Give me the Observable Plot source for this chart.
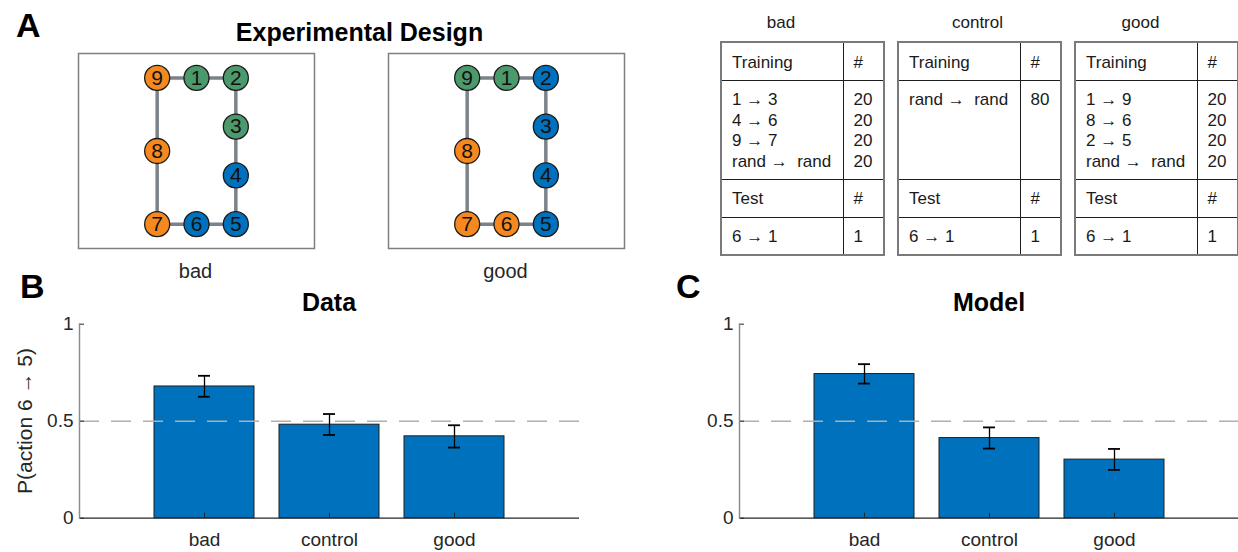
<!DOCTYPE html>
<html><head><meta charset="utf-8">
<script src="https://cdn.jsdelivr.net/npm/d3@7"></script>
<script src="https://cdn.jsdelivr.net/npm/@observablehq/plot@0.6"></script>
<style>
html,body{margin:0;padding:0;background:#fff;overflow:hidden;}
#fig{position:relative;width:1238px;height:552px;overflow:hidden;font-family:"Liberation Sans",Arial,Helvetica,sans-serif;color:#262626;background:#fff;}
.abs{position:absolute;}
.abs svg{max-width:none !important;}
table.t{position:absolute;border-collapse:collapse;table-layout:fixed;width:163px;font-size:17px;line-height:20.5px;color:#1a1a1a;border:2px solid #7a7a7a;}
table.t td{border:1px solid #1e1e1e;vertical-align:top;padding:9.8px 0 0 10px;white-space:pre;overflow:hidden;}
table.t td.n{padding-left:10px;}
</style></head><body><div id="fig"></div><script>
// ---------------- data ----------------
const conditions = ["bad", "control", "good"];
const nodeIds = [1, 2, 3, 4, 5, 6, 7, 8, 9];
const nodeX = [2, 3, 3, 3, 3, 2, 1, 1, 1];
const nodeY = [3, 3, 2, 1, 0, 0, 0, 1.5, 3];
const groupNames = ["cluster A", "cluster B", "cluster C"];
const groupColors = ["#F5891F", "#4C9A6C", "#0072BD"];
const nodeGroupBad  = ["cluster B", "cluster B", "cluster B", "cluster C", "cluster C", "cluster C", "cluster A", "cluster A", "cluster A"];
const nodeGroupGood = ["cluster B", "cluster C", "cluster C", "cluster C", "cluster C", "cluster A", "cluster A", "cluster A", "cluster B"];
const graphLabels = ["bad", "good"];

const trainingBad = [["1 → 3", 20], ["4 → 6", 20], ["9 → 7", 20], ["rand →  rand", 20]];
const trainingControl = [["rand →  rand", 80]];
const trainingGood = [["1 → 9", 20], ["8 → 6", 20], ["2 → 5", 20], ["rand →  rand", 20]];
const testRows = [["6 → 1", 1]];

const dataMean = [0.679, 0.482, 0.422];
const dataLo   = [0.626, 0.429, 0.364];
const dataHi   = [0.734, 0.537, 0.479];
const modelMean = [0.743, 0.413, 0.302];
const modelLo   = [0.694, 0.359, 0.249];
const modelHi   = [0.794, 0.468, 0.357];
const yTicks = [0, 0.5, 1];

// ---------------- helpers ----------------
const fig = document.getElementById("fig");
const FONT = "Liberation Sans, Arial, Helvetica, sans-serif";
function place(el, left, top) {
  const d = document.createElement("div");
  d.className = "abs"; d.style.left = left + "px"; d.style.top = top + "px";
  d.style.width = el.getAttribute("width") + "px";
  d.appendChild(el); fig.appendChild(d); return d;
}

// ---------------- Panel A graphs ----------------
function graphPlot(groups) {
  const nodes = nodeIds.map((id, i) => ({id, x: nodeX[i], y: nodeY[i], g: groups[i]}));
  const edges = nodes.map((n, i) => ({a: n, b: nodes[(i + 1) % nodes.length]}));
  return Plot.plot({
    width: 240, height: 199, margin: 2,
    style: {fontFamily: FONT, overflow: "visible", background: "transparent", maxWidth: "none"},
    x: {domain: [-1, 5], axis: null},
    y: {domain: [-0.5, 3.5], axis: null},
    color: {type: "ordinal", domain: groupNames, range: groupColors},
    marks: [
      Plot.frame({stroke: "#7f7f7f", strokeWidth: 1.5}),
      Plot.link(edges, {x1: d => d.a.x, y1: d => d.a.y, x2: d => d.b.x, y2: d => d.b.y, stroke: "#7b8288", strokeWidth: 3.5}),
      Plot.dot(nodes, {x: "x", y: "y", r: 12.5, fill: "g", stroke: "#1a1a1a", strokeWidth: 1.3}),
      Plot.text(nodes, {x: "x", y: "y", text: "id", fontSize: 21, fill: "#111"})
    ]
  });
}
place(graphPlot(nodeGroupBad), 76, 51);
place(graphPlot(nodeGroupGood), 386, 51);

// ---------------- Tables ----------------
function makeTable(training, left) {
  const t = document.createElement("table");
  t.className = "t";
  t.style.left = left + "px"; t.style.top = "41px";
  const cg = document.createElement("colgroup");
  cg.innerHTML = '<col style="width:122px"><col style="width:41px">';
  t.appendChild(cg);
  const rows = [
    ["Training", "#", 38],
    [training.map(r => r[0]).join("\n"), training.map(r => r[1]).join("\n"), 99],
    ["Test", "#", 38],
    [testRows.map(r => r[0]).join("\n"), testRows.map(r => r[1]).join("\n"), 38]
  ];
  for (const [a, b, h] of rows) {
    const tr = document.createElement("tr");
    tr.style.height = h + "px";
    const td1 = document.createElement("td"); td1.textContent = a;
    const td2 = document.createElement("td"); td2.className = "n"; td2.textContent = b;
    tr.appendChild(td1); tr.appendChild(td2); t.appendChild(tr);
  }
  fig.appendChild(t);
}
makeTable(trainingBad, 720);
makeTable(trainingControl, 897);
makeTable(trainingGood, 1074);

// ---------------- Panels B and C ----------------
function barPlot(mean, lo, hi) {
  const data = conditions.map((c, i) => ({c, v: mean[i], lo: lo[i], hi: hi[i]}));
  const mL = 79, mR = 10, mT = 43.7, fw = 500, fh = 194, H = 272;
  return Plot.plot({
    width: mL + fw + mR, height: H,
    marginLeft: mL, marginRight: mR, marginTop: mT, marginBottom: H - mT - fh,
    style: {fontFamily: FONT, overflow: "visible", background: "transparent", maxWidth: "none"},
    x: {domain: conditions, paddingInner: 0.2, paddingOuter: 0.6, align: 0.5, label: null},
    y: {domain: [0, 1], label: null},
    marks: [
      Plot.barY(data, {x: "c", y: "v", fill: "#0072BD", stroke: "#1f1f1f", strokeWidth: 1}),
      Plot.ruleY([0.5], {stroke: "#b0b0b0", strokeWidth: 1.5, strokeDasharray: "20,12"}),
      Plot.ruleX(data, {x: "c", y1: "lo", y2: "hi", stroke: "#000", strokeWidth: 1.3}),
      Plot.tickY(data, {x: "c", y: "lo", inset: 44, stroke: "#000", strokeWidth: 1.8}),
      Plot.tickY(data, {x: "c", y: "hi", inset: 44, stroke: "#000", strokeWidth: 1.8}),
      Plot.tickX(conditions, {x: d => d, insetTop: fh - 5, stroke: "#262626", strokeWidth: 1}),
      Plot.tickY(yTicks, {y: d => d, insetRight: fw - 5, stroke: "#262626", strokeWidth: 1}),
      Plot.ruleY([0], {stroke: "#262626", strokeWidth: 1.3}),
      Plot.frame({anchor: "left", stroke: "#8c8c8c", strokeWidth: 1.5}),
      Plot.axisY({ticks: yTicks, tickFormat: d => String(d), tickSize: 0, tickPadding: 6, fontSize: 19, fill: "#262626", label: null}),
      Plot.axisX({tickSize: 0, tickPadding: 14, fontSize: 19, fill: "#262626", label: null})
    ]
  });
}
place(barPlot(dataMean, dataLo, dataHi), 0, 280);
place(barPlot(modelMean, modelLo, modelHi), 660, 280);

// ---------------- Text annotations ----------------
const NS = "http://www.w3.org/2000/svg";
const ov = document.createElementNS(NS, "svg");
ov.setAttribute("width", 1238); ov.setAttribute("height", 552);
ov.style.position = "absolute"; ov.style.left = "0"; ov.style.top = "0";
ov.style.pointerEvents = "none"; ov.style.fontFamily = FONT;
function txt(s, x, y, size, opts = {}) {
  const t = document.createElementNS(NS, "text");
  t.textContent = s;
  t.setAttribute("font-size", size);
  t.setAttribute("fill", opts.fill || "#000");
  t.setAttribute("text-anchor", opts.anchor || "middle");
  if (opts.bold) t.setAttribute("font-weight", "bold");
  if (opts.rotate) t.setAttribute("transform", `translate(${x},${y}) rotate(${opts.rotate})`);
  else { t.setAttribute("x", x); t.setAttribute("y", y); }
  ov.appendChild(t);
}
txt("A", 16, 37, 34, {bold: true, anchor: "start"});
txt("B", 20, 298, 34, {bold: true, anchor: "start"});
txt("C", 676, 298, 34, {bold: true, anchor: "start"});
txt("Experimental Design", 359.5, 40.5, 25, {bold: true});
txt(graphLabels[0], 195.5, 278, 20, {fill: "#262626"});
txt(graphLabels[1], 505.5, 278, 20, {fill: "#262626"});
txt(conditions[0], 781, 27.7, 17, {fill: "#1a1a1a"});
txt(conditions[1], 977.5, 27.7, 17, {fill: "#1a1a1a"});
txt(conditions[2], 1140.5, 27.7, 17, {fill: "#1a1a1a"});
txt("Data", 329, 311, 25, {bold: true});
txt("Model", 989, 311, 25, {bold: true});
txt("P(action 6 → 5)", 32, 421, 21, {fill: "#262626", rotate: -90});
fig.appendChild(ov);
</script></body></html>
